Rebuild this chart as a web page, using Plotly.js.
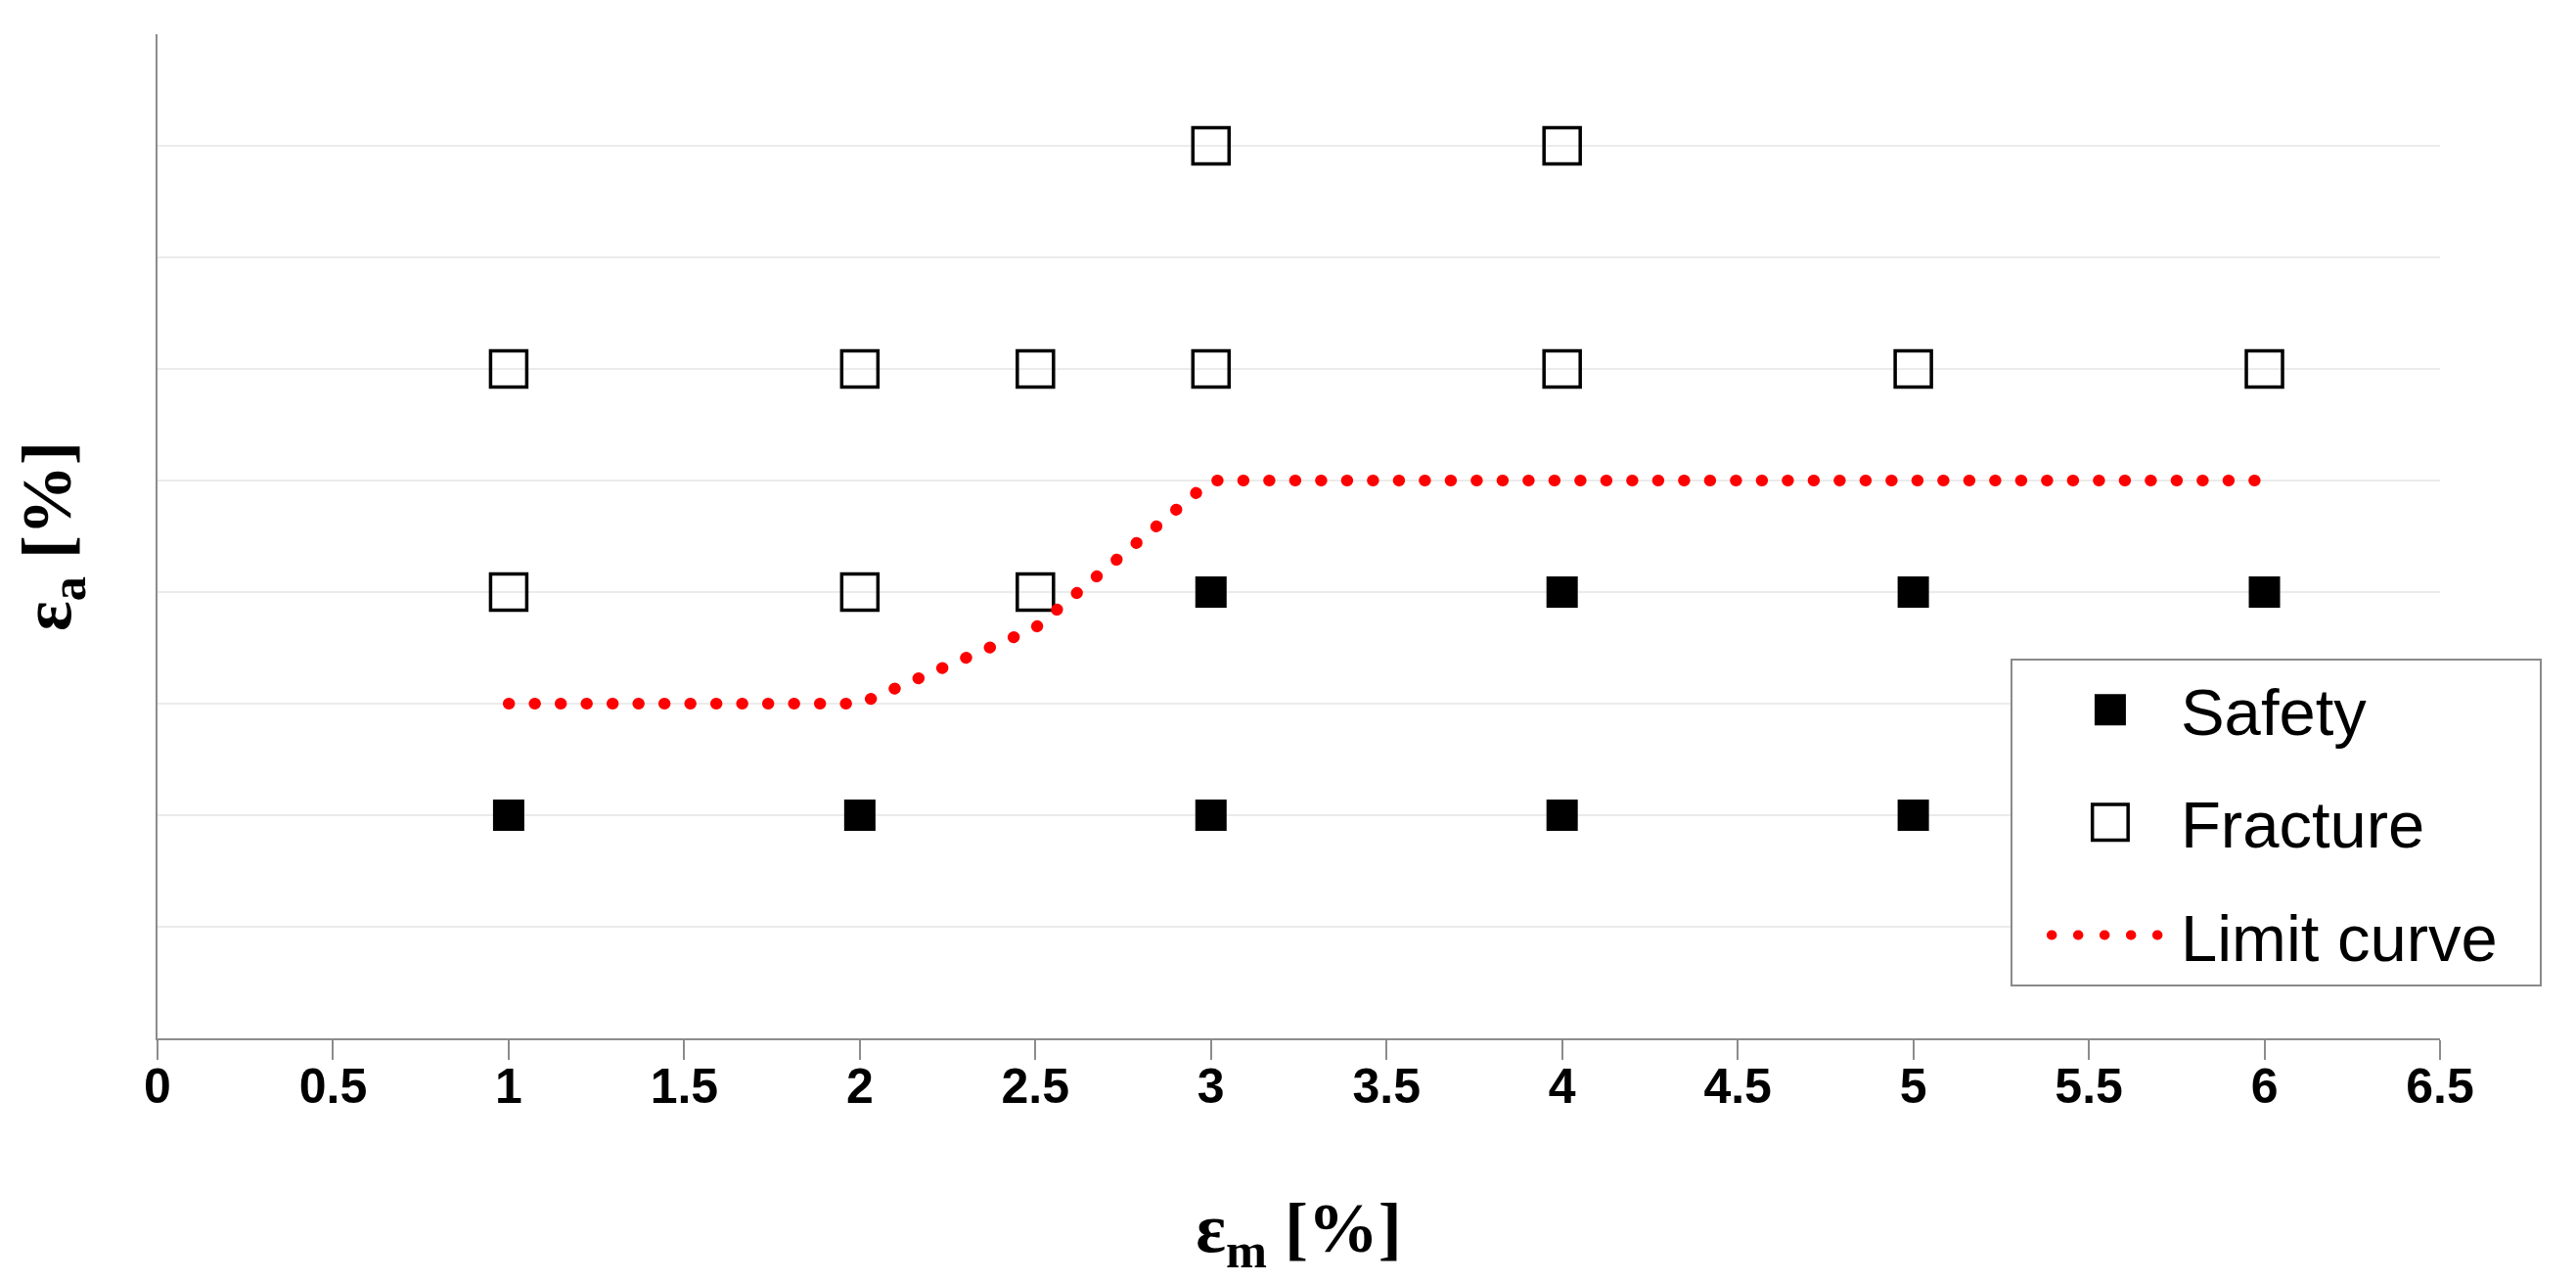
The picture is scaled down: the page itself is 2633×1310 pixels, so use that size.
<!DOCTYPE html>
<html>
<head>
<meta charset="utf-8">
<script src="https://cdn.plot.ly/plotly-3.0.1.min.js"></script>
<style>
html, body { margin: 0; padding: 0; background: #fff; }
#chart { width: 2633px; height: 1310px; }
.scatterlayer .js-line { stroke-linecap: round !important; }
</style>
<style id="legendStyle"></style>
</head>
<body>
<div id="chart"></div>
<script>
// Data
const safetyX = [1, 2, 3, 4, 5, 3, 4, 5, 6];
const safetyY = [2, 2, 2, 2, 2, 4, 4, 4, 4];
const fractureX = [3, 4, 1, 2, 2.5, 3, 4, 5, 6, 1, 2, 2.5];
const fractureY = [8, 8, 6, 6, 6, 6, 6, 6, 6, 4, 4, 4];
const limitX = [1, 2, 2.5, 3, 4, 5, 6];
const limitY = [3, 3, 3.68, 5, 5, 5, 5];
const xTicks = [0, 0.5, 1, 1.5, 2, 2.5, 3, 3.5, 4, 4.5, 5, 5.5, 6, 6.5];
const seriesNames = ['Safety', 'Fracture', 'Limit curve\u00a0\u00a0'];

// legend symbol styling (legend sample sizes, Plotly caps them at 16px)
const itemW = 162;
const symCenter = (itemW + 10) / 2 + 14;
document.getElementById('legendStyle').textContent = `
.legend .groups:nth-of-type(1) .scatterpts { transform: translate(${symCenter}px, 0px) scale(2) !important; }
.legend .groups:nth-of-type(2) .scatterpts { transform: translate(${symCenter}px, 0px) scale(2.28) !important; stroke-width: 1.53px !important; }
.legend .legendlines path { stroke-linecap: round !important; transform: translate(35px, 0px);
  stroke-dasharray: 0.5px 26.5px 0.5px 26.5px 0.5px 26.5px 0.5px 26.5px 0.5px 2000px !important; }
`;

const traces = [
  {
    x: safetyX, y: safetyY, name: seriesNames[0], type: 'scatter', mode: 'markers',
    legendgroup: 'a',
    marker: { symbol: 'square', size: 32, color: '#000000', line: { width: 0 } }
  },
  {
    x: fractureX, y: fractureY, name: seriesNames[1], type: 'scatter', mode: 'markers',
    legendgroup: 'b',
    marker: { symbol: 'square-open', size: 37, color: '#000000', line: { width: 3.5, color: '#000000' } }
  },
  {
    x: limitX, y: limitY, name: seriesNames[2], type: 'scatter', mode: 'lines',
    legendgroup: 'c',
    line: { color: '#ff0000', width: 12, dash: '0.5px,26px' }
  }
];

const layout = {
  width: 2633, height: 1310,
  margin: { l: 161, r: 139, t: 35, b: 249 },
  paper_bgcolor: '#ffffff', plot_bgcolor: '#ffffff',
  showlegend: true,
  legend: {
    x: 0.8118, y: 0.378, xanchor: 'left', yanchor: 'top',
    bgcolor: '#ffffff', bordercolor: '#8a8a8a', borderwidth: 2,
    font: { family: 'Liberation Sans, Arial, sans-serif', size: 67, color: '#000000' },
    traceorder: 'grouped', tracegroupgap: 25,
    itemwidth: itemW, itemsizing: 'trace'
  },
  xaxis: {
    range: [0, 6.5], tickvals: xTicks, ticktext: xTicks.map(String),
    showgrid: false, zeroline: false,
    showline: true, linecolor: '#8c8c8c', linewidth: 2,
    ticks: 'outside', ticklen: 20, tickwidth: 2, tickcolor: '#8c8c8c',
    ticklabelstandoff: -16,
    tickfont: { family: 'Liberation Sans, Arial, sans-serif', size: 50, color: '#000000', weight: 'bold' },
    title: {
      text: '<b>ε<sub>m</sub> [%]</b>', standoff: 92,
      font: { family: 'Liberation Serif, Times New Roman, serif', size: 72, color: '#000000' }
    },
    fixedrange: true
  },
  yaxis: {
    range: [0, 9], dtick: 1, tick0: 0,
    showgrid: true, gridcolor: '#ebebeb', gridwidth: 2,
    zeroline: false, showticklabels: false, ticks: '',
    showline: true, linecolor: '#8c8c8c', linewidth: 2,
    title: {
      text: '<b>ε<sub>a</sub> [%]</b>', standoff: 63,
      font: { family: 'Liberation Serif, Times New Roman, serif', size: 72, color: '#000000' }
    },
    fixedrange: true
  }
};

Plotly.newPlot('chart', traces, layout, { displayModeBar: false, staticPlot: true });
</script>
</body>
</html>
